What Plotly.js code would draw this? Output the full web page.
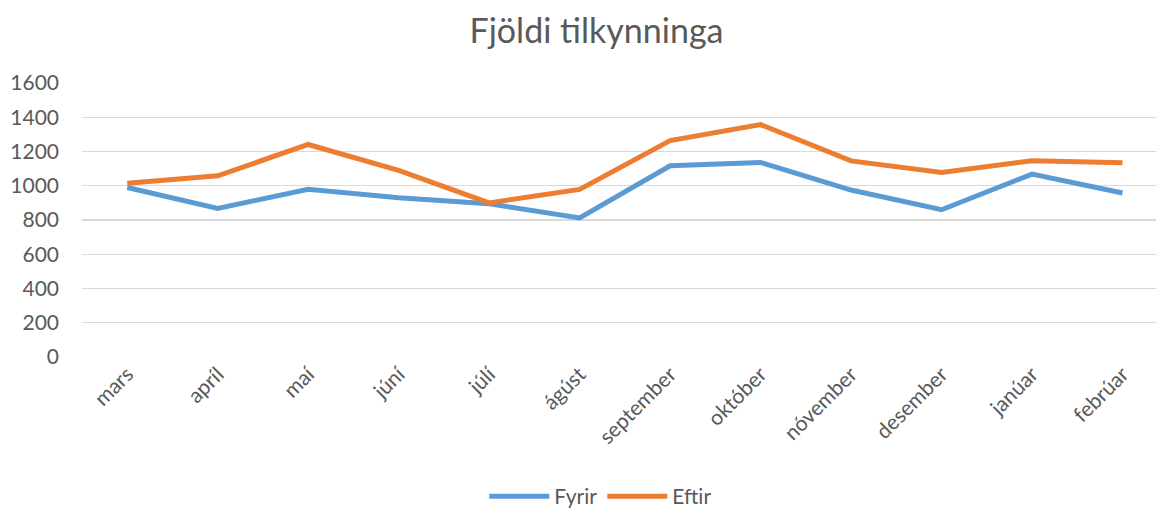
<!DOCTYPE html>
<html>
<head>
<meta charset="utf-8">
<script src="https://cdn.plot.ly/plotly-3.0.1.min.js"></script>
<style>html,body{margin:0;padding:0;background:#fff;}#chart{width:1156px;height:517px;}</style>
</head>
<body>
<div id="chart"></div>
<script>
const months = ["mars","apríl","maí","júní","júlí","ágúst","september","október","nóvember","desember","janúar","febrúar"];
const fyrir = [990, 868, 979, 930, 895, 812, 1117, 1136, 975, 860, 1068, 958];
const eftir = [1014, 1058, 1241, 1090, 900, 979, 1264, 1357, 1145, 1078, 1146, 1134];
const yTicks = [0, 200, 400, 600, 800, 1000, 1200, 1400, 1600];

const FONT = "Lato, 'Open Sans', sans-serif";
const GREY = "#595959";

const traces = [
  {x: months, y: fyrir, name: "Fyrir", type: "scatter", mode: "lines",
   line: {color: "#5B9BD5", width: 5}},
  {x: months, y: eftir, name: "Eftir", type: "scatter", mode: "lines",
   line: {color: "#ED7D31", width: 5}}
];

const layout = {
  width: 1156, height: 517,
  margin: {l: 82, r: 0, t: 83, b: 160, autoexpand: false},
  paper_bgcolor: "#fff", plot_bgcolor: "#fff",
  font: {family: FONT, color: GREY, size: 21},
  title: {text: "Fjöldi tilkynninga", font: {family: FONT, size: 34, color: GREY},
          x: 0.516, xanchor: "center", y: 0.94, yanchor: "middle"},
  xaxis: {type: "category", range: [-0.5, 11.37], tickangle: -45,
          showgrid: false, zeroline: false, showline: false, ticks: "",
          tickfont: {family: FONT, size: 21, color: GREY}, automargin: false},
  yaxis: {range: [0, 1600], tickvals: yTicks, ticktext: yTicks.map(String),
          showgrid: true, gridcolor: "#d9d9d9", gridwidth: 1.3,
          zeroline: false, showline: false, ticks: "", ticklen: 0,
          ticklabelstandoff: 22,
          tickfont: {family: FONT, size: 21, color: GREY}, automargin: false},
  showlegend: true,
  legend: {orientation: "h", x: 0.483, xanchor: "center", yref: "container", y: 0.0, yanchor: "bottom",
           font: {family: FONT, size: 21, color: GREY}, itemwidth: 60,
           tracegroupgap: 0, borderwidth: 0}
};

Plotly.newPlot("chart", traces, layout, {displayModeBar: false, staticPlot: true});
</script>
</body>
</html>
